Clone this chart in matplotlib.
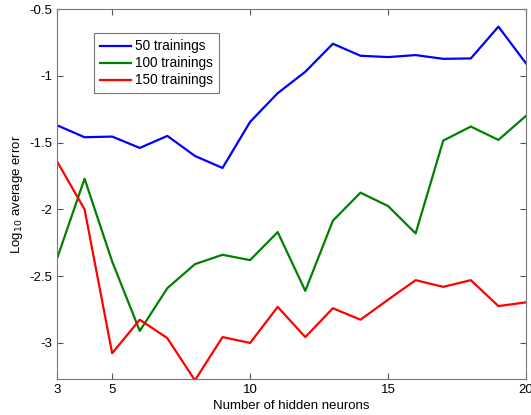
import numpy as np
import matplotlib.pyplot as plt

plt.rcParams['font.family'] = ['Liberation Sans', 'DejaVu Sans']

# Data
neurons = [3, 4, 5, 6, 7, 8, 9, 10, 11, 12, 13, 14, 15, 16, 17, 18, 19, 20]
err_50 = [-1.37, -1.46, -1.455, -1.54, -1.45, -1.60, -1.69, -1.345, -1.13, -0.97,
          -0.76, -0.85, -0.86, -0.845, -0.873, -0.87, -0.632, -0.907]
err_100 = [-2.37, -1.77, -2.39, -2.91, -2.59, -2.41, -2.34, -2.38, -2.17, -2.61,
           -2.085, -1.875, -1.975, -2.18, -1.485, -1.38, -1.48, -1.30]
err_150 = [-1.64, -2.0, -3.077, -2.826, -2.964, -3.28, -2.956, -3.0, -2.73, -2.956,
           -2.74, -2.826, -2.676, -2.53, -2.58, -2.53, -2.724, -2.696]
labels = ['50 trainings', '100 trainings', '150 trainings']

fig = plt.figure(figsize=(5.31, 4.15), dpi=100)
ax = fig.add_axes([0.1073, 0.0867, 0.8833, 0.8916])

ax.plot(neurons, err_50, color='#0000ff', lw=1.6, label=labels[0])
ax.plot(neurons, err_100, color='#008000', lw=1.6, label=labels[1])
ax.plot(neurons, err_150, color='#ff0000', lw=1.6, label=labels[2])

ax.set_xlim(3, 20)
ax.set_ylim(-3.27, -0.5)
ax.set_xticks([3, 5, 10, 15, 20])
ax.set_yticks([-3, -2.5, -2, -1.5, -1, -0.5])
ax.set_yticklabels(['-3', '-2.5', '-2', '-1.5', '-1', '-0.5'])
ax.tick_params(direction='in', top=True, right=True, labelsize=9.5, colors='#555555',
               labelcolor='black', length=4)
for s in ax.spines.values():
    s.set_color('#777777')

ax.set_xlabel('Number of hidden neurons', fontsize=9.5, labelpad=3)
ax.set_ylabel('Log$_{10}$ average error', fontsize=9.5, labelpad=3)

leg = ax.legend(loc='upper left', bbox_to_anchor=(0.064, 0.953), fontsize=9.8,
                fancybox=False, handlelength=2.3, handletextpad=0.3,
                labelspacing=0.22, borderpad=0.45, framealpha=1)
leg.get_frame().set_edgecolor('#777777')
leg.get_frame().set_linewidth(0.8)

fig.savefig('out.png', dpi=100)
